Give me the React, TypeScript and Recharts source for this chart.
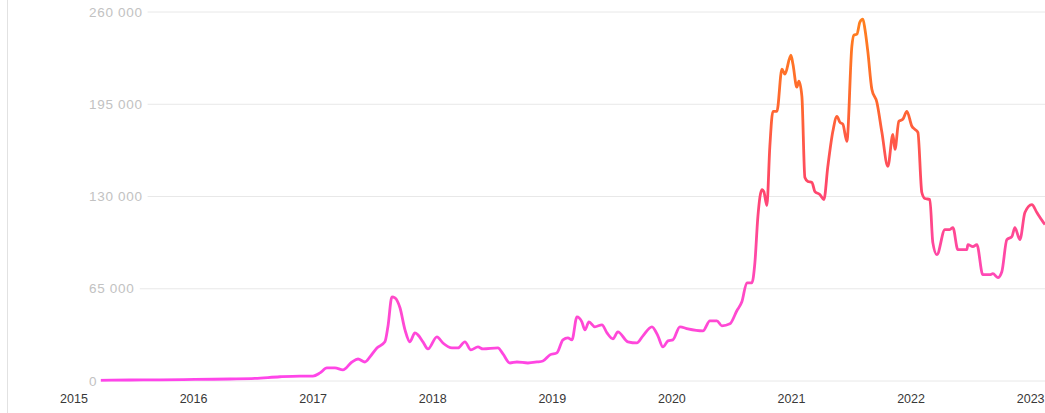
import React from 'react';
import { LineChart, Line, XAxis, YAxis, CartesianGrid } from 'recharts';

// decimal year of each sample
const years = [
  2015.192, 2015.468, 2015.719, 2016.012, 2016.304, 2016.513, 2016.722, 2016.89, 2016.998,
  2017.057, 2017.115, 2017.182, 2017.249, 2017.324, 2017.375, 2017.433, 2017.475, 2017.533,
  2017.6, 2017.625, 2017.659, 2017.684, 2017.726, 2017.768, 2017.809, 2017.851, 2017.876,
  2017.918, 2017.96, 2018.035, 2018.085, 2018.161, 2018.211, 2018.269, 2018.319, 2018.378,
  2018.42, 2018.545, 2018.587, 2018.645, 2018.704, 2018.796, 2018.871, 2018.921, 2018.98,
  2019.038, 2019.089, 2019.13, 2019.164, 2019.206, 2019.247, 2019.273, 2019.306, 2019.356,
  2019.415, 2019.457, 2019.507, 2019.548, 2019.632, 2019.707, 2019.758, 2019.833, 2019.883,
  2019.925, 2019.967, 2020.008, 2020.067, 2020.134, 2020.259, 2020.318, 2020.376, 2020.418,
  2020.485, 2020.543, 2020.585, 2020.627, 2020.669, 2020.694, 2020.719, 2020.753, 2020.769,
  2020.794, 2020.819, 2020.845, 2020.878, 2020.92, 2020.945, 2020.995, 2021.012, 2021.045,
  2021.062, 2021.087, 2021.112, 2021.137, 2021.171, 2021.196, 2021.237, 2021.271, 2021.304,
  2021.346, 2021.38, 2021.405, 2021.43, 2021.463, 2021.505, 2021.522, 2021.547, 2021.572,
  2021.597, 2021.614, 2021.639, 2021.672, 2021.714, 2021.756, 2021.806, 2021.848, 2021.865,
  2021.898, 2021.931, 2021.965, 2022.007, 2022.032, 2022.057, 2022.09, 2022.115, 2022.157,
  2022.182, 2022.216, 2022.283, 2022.324, 2022.35, 2022.391, 2022.467, 2022.475, 2022.517,
  2022.55, 2022.6, 2022.659, 2022.684, 2022.726, 2022.759, 2022.801, 2022.843, 2022.868,
  2022.91, 2022.952, 2023.01, 2023.052, 2023.102, 2023.12,
];

const values = [
  500, 700, 800, 1100, 1400, 1800, 3000, 3500, 3500,
  5700, 9200, 9200, 7800, 13400, 15500, 13400, 17000, 23300,
  27600, 38200, 59300, 58600, 51600, 36000, 27600, 33900, 32500,
  27600, 22600, 31100, 26800, 23300, 23300, 27600, 21900, 24000,
  22600, 23300, 19100, 12700, 13400, 12700, 13400, 14100, 18400,
  19800, 29000, 30400, 29000, 45200, 41700, 36000, 41700, 38200,
  39600, 33900, 29700, 34600, 27600, 26800, 31800, 38200, 31800,
  24000, 28300, 29000, 38200, 36700, 35300, 42400, 42400, 38900,
  40300, 49500, 55800, 69200, 69200, 83400, 115900, 134900, 133500,
  123600, 165300, 190000, 190000, 219700, 216200, 229600, 223300, 207000,
  211200, 200600, 143400, 140600, 139900, 133500, 131400, 127900, 151200,
  175900, 186500, 182300, 180900, 168900, 236000, 243700, 244400, 252900,
  255000, 248000, 231700, 205600, 196400, 175200, 151200, 173800, 163200,
  183000, 184400, 190000, 179500, 177300, 175200, 132800, 128600, 127900,
  97500, 89000, 106700, 106700, 108100, 92600, 92600, 96100, 94700,
  96100, 74900, 74900, 75600, 72800, 77000, 99600, 101700, 108100,
  99600, 118700, 124300, 118700, 112300, 110200,
];

const yearTicks = [2015, 2016, 2017, 2018, 2019, 2020, 2021, 2022, 2023];
const valueTicks = [0, 65000, 130000, 195000, 260000];

const data = years.map((t, i) => ({ t, v: values[i] }));

const fmt = (v: number) => String(v).replace(/\B(?=(\d{3})+(?!\d))/g, ' ');

const renderYTick = (props: any) => {
  const { x, y, payload } = props;
  const label = fmt(payload.value);
  const w = label.length * 7.8;
  return (
    <g key={`yt-${payload.value}`}>
      <rect x={x - 15} y={y - 9} width={w + 19} height={18} fill="#ffffff" />
      <text
        x={x}
        y={y}
        dy="0.35em"
        textAnchor="start"
        fill="#c2c2c2"
        fontSize={13.5}
        fontFamily="Liberation Sans, Arial, sans-serif"
        letterSpacing={0.7}
      >
        {label}
      </text>
    </g>
  );
};

export default function App() {
  return (
    <div style={{ position: 'fixed', left: 0, top: 0, width: 1045, height: 413, background: '#fff' }}>
      <div style={{ position: 'absolute', left: 7, top: 0, width: 1, height: 413, background: '#e2e2e2' }} />
      <LineChart
        width={1045}
        height={413}
        data={data}
        margin={{ top: 12, right: 0, bottom: 0, left: 74 }}
      >
        <defs>
          <linearGradient id="lineGrad" x1="0" y1="0" x2="0" y2="1">
            <stop offset="0%" stopColor="#ff7f1e" />
            <stop offset="25%" stopColor="#ff6630" />
            <stop offset="46%" stopColor="#ff4668" />
            <stop offset="62%" stopColor="#ff489c" />
            <stop offset="78%" stopColor="#ff4acb" />
            <stop offset="100%" stopColor="#ff45ea" />
          </linearGradient>
        </defs>
        <CartesianGrid vertical={false} stroke="#e8e8e8" />
        <XAxis
          type="number"
          dataKey="t"
          domain={[2015, 2023.12]}
          ticks={yearTicks}
          interval={0}
          allowDataOverflow
          axisLine={false}
          tickLine={false}
          tickSize={0}
          tickMargin={13}
          height={32}
          tick={{ fill: '#383838', fontSize: 12.5, fontFamily: 'Liberation Sans, Arial, sans-serif' }}
        />
        <YAxis
          type="number"
          domain={[0, 260000]}
          ticks={valueTicks}
          interval={0}
          mirror
          width={60}
          axisLine={false}
          tickLine={false}
          tickSize={0}
          tickMargin={15}
          tick={renderYTick}
        />
        <Line
          type="monotone"
          dataKey="v"
          stroke="url(#lineGrad)"
          strokeWidth={2.8}
          strokeLinejoin="round"
          dot={false}
          isAnimationActive={false}
        />
      </LineChart>
    </div>
  );
}
